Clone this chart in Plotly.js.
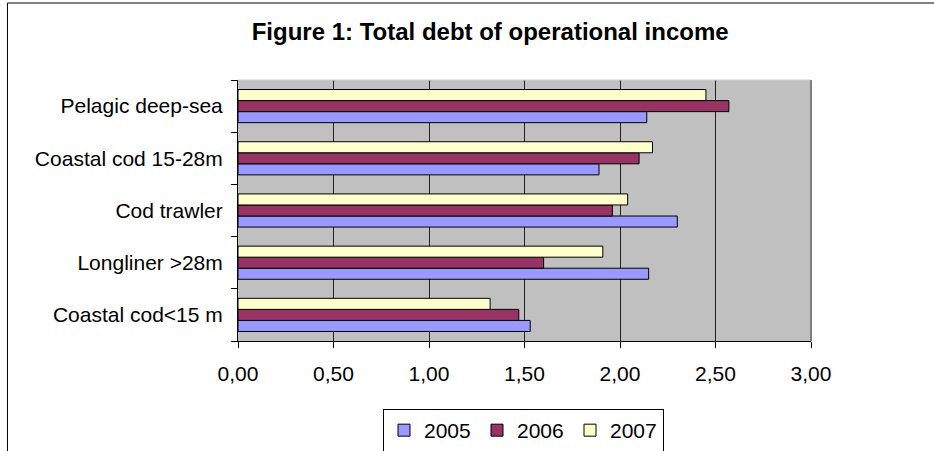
<!DOCTYPE html>
<html>
<head>
<meta charset="utf-8">
<script src="https://cdn.plot.ly/plotly-3.0.1.min.js"></script>
<style>html,body{margin:0;padding:0;background:#fff;}#chart{width:934px;height:451px;}</style>
</head>
<body>
<div id="chart"></div>
<script>
// Data (bottom-to-top category order)
const categories = ["Coastal cod<15 m", "Longliner >28m", "Cod trawler", "Coastal cod 15-28m", "Pelagic deep-sea"];
const years = ["2005", "2006", "2007"];
const values2005 = [1.53, 2.15, 2.30, 1.89, 2.14];
const values2006 = [1.47, 1.60, 1.96, 2.10, 2.57];
const values2007 = [1.32, 1.91, 2.04, 2.17, 2.45];
const xTicks = [0, 0.5, 1, 1.5, 2, 2.5, 3];

const colors = ["#9999FF", "#993366", "#FFFFCC"];
const series = [values2005, values2006, values2007];

const traces = series.map((vals, i) => ({
  type: "bar",
  orientation: "h",
  name: years[i],
  y: categories,
  x: vals,
  marker: {color: colors[i], line: {color: "#000", width: 1}},
  hoverinfo: "none"
}));

const font = "Arial, 'Liberation Sans', sans-serif";

const layout = {
  width: 934,
  height: 451,
  margin: {l: 238, r: 123, t: 80, b: 110, pad: 0, autoexpand: false},
  paper_bgcolor: "#fff",
  plot_bgcolor: "#C0C0C0",
  separators: ",.",
  font: {family: font, size: 21, color: "#000"},
  title: {
    text: "<b>Figure 1: Total debt of operational income</b>",
    font: {family: font, size: 24, color: "#000"},
    x: 0.44, xref: "paper", xanchor: "center",
    y: 0.931, yref: "container", yanchor: "middle"
  },
  barmode: "group",
  bargap: 0.365,
  bargroupgap: 0,
  xaxis: {
    range: [0, 3],
    tickmode: "array",
    tickvals: xTicks,
    tickformat: ".2f",
    ticks: "outside",
    ticklen: 6,
    tickcolor: "#000",
    ticklabelstandoff: 8,
    showline: true,
    linecolor: "#000",
    linewidth: 1,
    showgrid: true,
    gridcolor: "#222",
    gridwidth: 1,
    zeroline: false,
    automargin: false,
    tickfont: {family: font, size: 21, color: "#000"},
    fixedrange: true
  },
  yaxis: {
    type: "category",
    categoryorder: "array",
    categoryarray: categories,
    ticks: "outside",
    tickson: "boundaries",
    ticklen: 6,
    tickcolor: "#000",
    ticklabelstandoff: 10,
    showline: true,
    linecolor: "#000",
    linewidth: 1,
    showgrid: false,
    zeroline: false,
    automargin: false,
    tickfont: {family: font, size: 21, color: "#000"},
    fixedrange: true
  },
  showlegend: true,
  legend: {
    orientation: "h",
    xref: "container", x: 0.5605, xanchor: "center",
    yref: "container", y: 0.0931, yanchor: "top",
    bgcolor: "#fff",
    bordercolor: "#000",
    borderwidth: 1,
    font: {family: font, size: 21, color: "#000"},
    traceorder: "normal",
    itemwidth: 30,
    entrywidth: 48,
    entrywidthmode: "pixels"
  },
  shapes: [
    {type: "rect", xref: "paper", yref: "paper", x0: -0.4023, x1: 1.3, y0: 1.295, y1: -0.5,
     line: {color: "#000", width: 1}, fillcolor: "rgba(0,0,0,0)", layer: "below"},
    {type: "line", xref: "paper", yref: "paper", x0: 0, x1: 1, y0: 1, y1: 1,
     line: {color: "#d0d0d0", width: 1}},
    {type: "line", xref: "paper", yref: "paper", x0: 1, x1: 1, y0: 0, y1: 1,
     line: {color: "#808080", width: 2}}
  ]
};

Plotly.newPlot("chart", traces, layout, {staticPlot: true, displayModeBar: false});
</script>
</body>
</html>
